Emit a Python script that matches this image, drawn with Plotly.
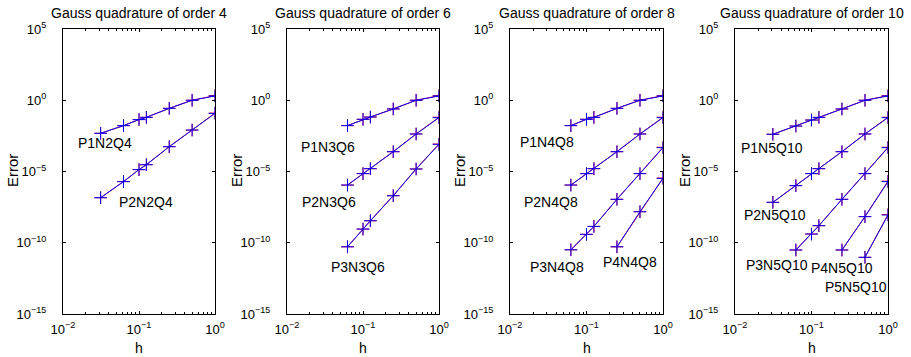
import plotly.graph_objects as go

# Mesh sizes
h7 = [1/32, 1/16, 1/10, 1/8, 1/4, 1/2, 1]
h6 = [1/16, 1/10, 1/8, 1/4, 1/2, 1]
h3 = [1/4, 1/2, 1]
h2 = [1/2, 1]

# Gauss quadrature of order 4
p1n2q4 = [4.8e-3, 1.66e-2, 4.4e-2, 6.3e-2, 0.27, 1.0, 2.0]
p2n2q4 = [1.45e-7, 1.95e-6, 1.35e-5, 3.0e-5, 5.5e-4, 8.1e-3, 0.12]
p1n2q4_ref = [4.8e-3, 1.66e-2, 4.4e-2, 6.3e-2, 0.27, 1.0, 2.1]
p2n2q4_ref = [1.45e-7, 1.95e-6, 1.35e-5, 3.0e-5, 5.5e-4, 8.1e-3, 0.125]

# Gauss quadrature of order 6
p1n3q6 = [1.66e-2, 4.6e-2, 6.6e-2, 0.245, 1.0, 2.0]
p2n3q6 = [1.12e-6, 7.1e-6, 1.58e-5, 2.45e-4, 4.3e-3, 6.0e-2]
p3n3q6 = [5.2e-11, 9.1e-10, 3.5e-9, 2.0e-7, 1.5e-5, 8.1e-4]
p1n3q6_ref = [1.66e-2, 4.6e-2, 6.6e-2, 0.245, 1.0, 2.1]
p2n3q6_ref = [1.12e-6, 7.1e-6, 1.58e-5, 2.45e-4, 4.3e-3, 6.4e-2]
p3n3q6_ref = [5.2e-11, 9.1e-10, 3.5e-9, 2.0e-7, 1.5e-5, 8.5e-4]

# Gauss quadrature of order 8
p1n4q8 = [1.66e-2, 4.6e-2, 6.3e-2, 0.27, 1.0, 2.0]
p2n4q8 = [1.12e-6, 7.1e-6, 1.58e-5, 2.45e-4, 4.3e-3, 6.0e-2]
p3n4q8 = [3.2e-11, 3.9e-10, 1.4e-9, 1.12e-7, 7.1e-6, 4.7e-4]
p4n4q8 = [5.2e-11, 1.5e-8, 3.3e-6]
p1n4q8_ref = [1.66e-2, 4.6e-2, 6.3e-2, 0.27, 1.0, 2.1]
p2n4q8_ref = [1.12e-6, 7.1e-6, 1.58e-5, 2.45e-4, 4.3e-3, 6.4e-2]
p3n4q8_ref = [3.2e-11, 3.9e-10, 1.4e-9, 1.12e-7, 7.1e-6, 5.0e-4]
p4n4q8_ref = [5.2e-11, 1.5e-8, 3.5e-6]

# Gauss quadrature of order 10
p1n5q10 = [4.1e-3, 1.55e-2, 4.1e-2, 6.3e-2, 0.245, 1.0, 2.0]
p2n5q10 = [6.9e-8, 1.02e-6, 7.1e-6, 1.58e-5, 2.45e-4, 4.3e-3, 6.0e-2]
p3n5q10 = [3.1e-11, 4.1e-10, 1.58e-9, 1.12e-7, 7.1e-6, 4.7e-4]
p4n5q10 = [3.1e-11, 6.8e-9, 1.95e-6]
p5n5q10 = [9.5e-12, 8.9e-9]
p1n5q10_ref = [4.1e-3, 1.55e-2, 4.1e-2, 6.3e-2, 0.245, 1.0, 2.1]
p2n5q10_ref = [6.9e-8, 1.02e-6, 7.1e-6, 1.58e-5, 2.45e-4, 4.3e-3, 6.4e-2]
p3n5q10_ref = [3.1e-11, 4.1e-10, 1.58e-9, 1.12e-7, 7.1e-6, 5.0e-4]
p4n5q10_ref = [3.1e-11, 6.8e-9, 2.1e-6]
p5n5q10_ref = [9.5e-12, 9.5e-9]

# Axis ticks
x_tickvals = [1e-2, 1e-1, 1e0]
x_ticktext = ["10<sup>−2</sup>", "10<sup>−1</sup>", "10<sup>0</sup>"]
y_tickvals = [1e-15, 1e-10, 1e-5, 1e0, 1e5]
y_ticktext = ["10<sup>−15</sup>", "10<sup>−10</sup>", "10<sup>−5</sup>",
              "10<sup>0</sup>", "10<sup>5</sup>"]
x_minor_vals = [m * d for d in (1e-2, 1e-1) for m in range(2, 10)]

orders = [4, 6, 8, 10]
panels = [
    [("P1N2Q4", h7, p1n2q4, p1n2q4_ref), ("P2N2Q4", h7, p2n2q4, p2n2q4_ref)],
    [("P1N3Q6", h6, p1n3q6, p1n3q6_ref), ("P2N3Q6", h6, p2n3q6, p2n3q6_ref),
     ("P3N3Q6", h6, p3n3q6, p3n3q6_ref)],
    [("P1N4Q8", h6, p1n4q8, p1n4q8_ref), ("P2N4Q8", h6, p2n4q8, p2n4q8_ref),
     ("P3N4Q8", h6, p3n4q8, p3n4q8_ref), ("P4N4Q8", h3, p4n4q8, p4n4q8_ref)],
    [("P1N5Q10", h7, p1n5q10, p1n5q10_ref), ("P2N5Q10", h7, p2n5q10, p2n5q10_ref),
     ("P3N5Q10", h6, p3n5q10, p3n5q10_ref), ("P4N5Q10", h3, p4n5q10, p4n5q10_ref),
     ("P5N5Q10", h2, p5n5q10, p5n5q10_ref)],
]

# Label anchor points (log10 h, log10 error)
label_pos = {
    "P1N2Q4": (-1.454, -3.0), "P2N2Q4": (-0.908, -7.12),
    "P1N3Q6": (-1.455, -3.26), "P2N3Q6": (-1.454, -7.12), "P3N3Q6": (-1.067, -11.68),
    "P1N4Q8": (-1.516, -2.91), "P2N4Q8": (-1.46, -7.12), "P3N4Q8": (-1.39, -11.68),
    "P4N4Q8": (-0.435, -11.33),
    "P1N5Q10": (-1.518, -3.33), "P2N5Q10": (-1.471, -8.05), "P3N5Q10": (-1.456, -11.56),
    "P4N5Q10": (-0.605, -11.79), "P5N5Q10": (-0.42, -13.13),
}

W, H = 911, 357
ML, MR, MT, MB = 63, 23, 29, 43
PW, PH = W - ML - MR, H - MT - MB
panel_px = [(63, 215), (287, 439), (510, 663), (735, 888)]

def fx(px):
    return (px - ML) / PW

def fy(py):
    return 1 - (py - MT) / PH

FONT = "Liberation Sans, Arial, sans-serif"
fig = go.Figure()

for i, series in enumerate(panels):
    ax = "" if i == 0 else str(i + 1)
    for name, h, err, ref in series:
        for vals, color in ((ref, "rgb(255,0,0)"), (err, "rgb(0,0,255)")):
            fig.add_trace(go.Scatter(
                x=h, y=vals, mode="lines+markers", xaxis="x" + ax, yaxis="y" + ax,
                line=dict(color=color, width=1),
                marker=dict(symbol="cross-thin", size=9,
                            line=dict(color=color, width=1)),
                showlegend=False, hoverinfo="skip"))
        lx, ly = label_pos[name]
        fig.add_annotation(x=lx, y=ly, xref="x" + ax, yref="y" + ax, text=name,
                           xanchor="center", yanchor="middle",
                           showarrow=False, font=dict(size=14, color="black", family=FONT))

axis_common = dict(type="log", showgrid=False, zeroline=False, showline=True,
                   linecolor="black", linewidth=1, mirror="ticks", ticks="inside",
                   ticklen=3, tickcolor="black",
                   tickfont=dict(size=13, color="black", family=FONT))
layout = dict(width=W, height=H, margin=dict(l=ML, r=MR, t=MT, b=MB),
              plot_bgcolor="white", paper_bgcolor="white", showlegend=False)

for i, (a, b) in enumerate(panel_px):
    k = "" if i == 0 else str(i + 1)
    layout["xaxis" + k] = dict(axis_common, domain=[fx(a), fx(b)], range=[-2, 0],
                               tickvals=x_tickvals, ticktext=x_ticktext, anchor="y" + k,
                               ticklabelstandoff=3,
                               minor=dict(ticks="inside", ticklen=2, tickcolor="black",
                                          tickvals=x_minor_vals, showgrid=False))
    layout["yaxis" + k] = dict(axis_common, domain=[0, 1], range=[-15, 5],
                               tickvals=y_tickvals, ticktext=y_ticktext,
                               anchor="x" + k, ticklabelstandoff=13)
    cx = (a + b) / 2
    common = dict(xref="paper", yref="paper", xanchor="center", yanchor="middle",
                  showarrow=False)
    fig.add_annotation(x=fx(cx), y=fy(13), text=f"Gauss quadrature of order {orders[i]}",
                       font=dict(size=14, color="black", family=FONT), **common)
    fig.add_annotation(x=fx(cx), y=fy(348), text="h",
                       font=dict(size=14, color="black", family=FONT), **common)
    fig.add_annotation(x=fx(a - 51), y=fy(171), text="Error", textangle=-90,
                       font=dict(size=15, color="black", family=FONT), **common)

fig.update_layout(**layout)
fig.write_html("out.html")
